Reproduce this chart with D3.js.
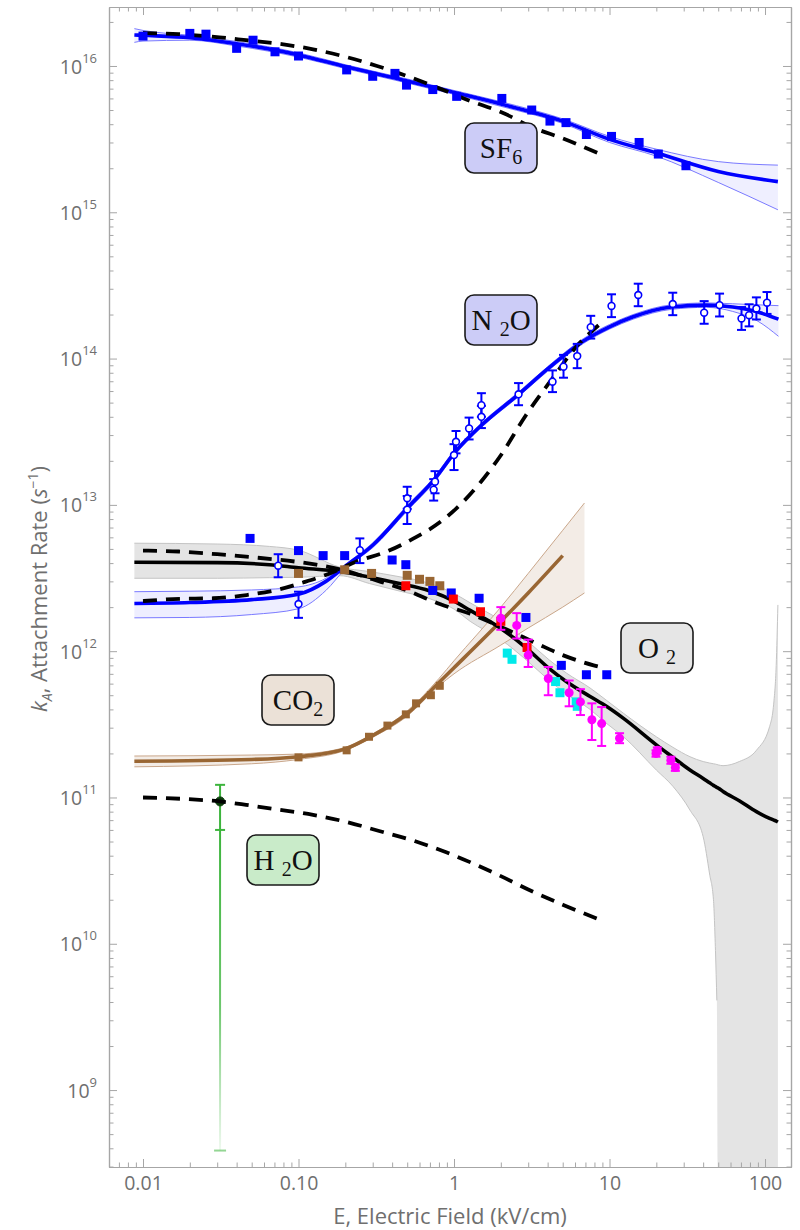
<!DOCTYPE html>
<html><head><meta charset="utf-8">
<script src="https://cdn.jsdelivr.net/npm/d3@7"></script>
<style>body{margin:0;background:#fff}svg{display:block}</style>
</head><body>
<svg id="c" width="800" height="1230"></svg>
<script>
// ---------------- DATA ----------------
const xMajor = [0.01, 0.1, 1, 10, 100];
const xMajorLabels = ["0.01", "0.10", "1", "10", "100"];
const yMajor = [1e9, 1e10, 1e11, 1e12, 1e13, 1e14, 1e15, 1e16];
const yMajorExp = ["9", "10", "11", "12", "13", "14", "15", "16"];

// SF6 fit + band
const sf6E   = [0.0088, 0.01, 0.02, 0.04, 0.1, 0.2, 0.5, 1, 2, 5, 10, 20, 50, 121];
const sf6Fit = [1.63e16, 1.62e16, 1.56e16, 1.42e16, 1.19e16, 9.9e15, 7.9e15, 6.6e15, 5.5e15, 4.2e15, 3.15e15, 2.55e15, 1.9e15, 1.62e15];
const sf6Hi  = [1.8e16, 1.75e16, 1.62e16, 1.47e16, 1.23e16, 1.02e16, 8.15e15, 6.8e15, 5.7e15, 4.35e15, 3.3e15, 2.7e15, 2.22e15, 2.1e15];
const sf6Lo  = [1.45e16, 1.48e16, 1.5e16, 1.37e16, 1.15e16, 9.6e15, 7.65e15, 6.4e15, 5.3e15, 4.05e15, 3.0e15, 2.42e15, 1.6e15, 1.04e15];
const sf6DashE = [0.01, 0.017, 0.031, 0.046, 0.078, 0.124, 0.204, 0.32, 0.52, 0.81, 1.2, 2.07, 3.2, 5.0, 8.7];
const sf6Dash  = [1.68e16, 1.65e16, 1.57e16, 1.5e16, 1.41e16, 1.3e16, 1.15e16, 1.0e16, 8.4e15, 7.0e15, 5.9e15, 4.77e15, 3.8e15, 3.2e15, 2.5e15];
const sf6PtE = [0.01, 0.02, 0.0254, 0.04, 0.051, 0.0706, 0.10, 0.204, 0.30, 0.417, 0.495, 0.73, 1.04, 2.03, 3.16, 4.14, 5.25, 7.1, 10.3, 15.5, 20.6, 31];
const sf6PtK = [1.6e16, 1.67e16, 1.65e16, 1.32e16, 1.5e16, 1.25e16, 1.17e16, 9.4e15, 8.5e15, 8.9e15, 7.4e15, 6.9e15, 6.2e15, 6.0e15, 5.0e15, 4.2e15, 4.1e15, 3.4e15, 3.3e15, 3.0e15, 2.5e15, 2.08e15];

// N2O fit + band
const n2oE   = [0.0088, 0.02, 0.05, 0.1, 0.15, 0.2, 0.3, 0.5, 0.75, 1.0, 1.5, 2.6, 4, 6.8, 10, 14.2, 25, 42, 62, 90, 122];
const n2oFit = [2.12e12, 2.15e12, 2.25e12, 2.45e12, 3.0e12, 3.8e12, 5.3e12, 9.5e12, 1.5e13, 2.25e13, 3.5e13, 5.7e13, 8.5e13, 1.32e14, 1.65e14, 1.93e14, 2.25e14, 2.32e14, 2.25e14, 2.08e14, 1.86e14];
const n2oHi  = [2.55e12, 2.57e12, 2.62e12, 2.75e12, 3.15e12, 3.92e12, 5.5e12, 9.9e12, 1.56e13, 2.34e13, 3.62e13, 5.9e13, 8.8e13, 1.37e14, 1.71e14, 2.0e14, 2.33e14, 2.4e14, 2.37e14, 2.33e14, 2.3e14];
const n2oLo  = [1.69e12, 1.7e12, 1.78e12, 1.95e12, 2.6e12, 3.65e12, 5.1e12, 9.1e12, 1.44e13, 2.16e13, 3.38e13, 5.5e13, 8.2e13, 1.27e14, 1.59e14, 1.86e14, 2.17e14, 2.24e14, 2.1e14, 1.8e14, 1.42e14];
const n2oDashE = [0.01, 0.0173, 0.0283, 0.0464, 0.0758, 0.107, 0.159, 0.236, 0.37, 0.55, 0.81, 1.04, 1.5, 1.98, 2.9, 4.37, 6.1, 9.0];
const n2oDash  = [2.2e12, 2.28e12, 2.3e12, 2.42e12, 2.65e12, 2.95e12, 3.4e12, 4.1e12, 4.8e12, 5.9e12, 7.6e12, 9.5e12, 1.45e13, 2.15e13, 4.1e13, 7.5e13, 1.2e14, 1.78e14];
const n2oPtE  = [0.074, 0.1, 0.248, 0.5, 0.5, 0.74, 0.755, 1.0, 1.03, 1.25, 1.5, 1.5, 2.6, 4.3, 5.06, 6.2, 7.57, 10.3, 15.3, 25.5, 40.6, 51, 70.6, 79, 88, 103];
const n2oPtK  = [3.84e12, 2.1e12, 4.9e12, 9.3e12, 1.11e13, 1.27e13, 1.44e13, 2.19e13, 2.7e13, 3.33e13, 4.0e13, 4.8e13, 5.7e13, 6.95e13, 8.8e13, 1.04e14, 1.64e14, 2.29e14, 2.72e14, 2.36e14, 2.06e14, 2.32e14, 1.88e14, 1.98e14, 2.2e14, 2.41e14];
const n2oPtHi = [4.6e12, 2.55e12, 5.9e12, 1.15e13, 1.33e13, 1.5e13, 1.7e13, 2.6e13, 3.2e13, 3.95e13, 4.75e13, 5.8e13, 6.8e13, 8.3e13, 1.06e14, 1.26e14, 1.96e14, 2.75e14, 3.25e14, 2.82e14, 2.47e14, 2.78e14, 2.25e14, 2.35e14, 2.62e14, 2.85e14];
const n2oPtLo = [3.2e12, 1.69e12, 4.0e12, 7.4e12, 9.4e12, 1.07e13, 1.2e13, 1.73e13, 2.25e13, 2.8e13, 3.35e13, 4.0e13, 4.8e13, 5.9e13, 7.4e13, 8.6e13, 1.37e14, 1.92e14, 2.28e14, 1.98e14, 1.73e14, 1.94e14, 1.57e14, 1.66e14, 1.85e14, 2.02e14];

// O2 fit + band
const o2E   = [0.0088, 0.03, 0.065, 0.1, 0.185, 0.286, 0.43, 0.7, 1.0, 1.27, 2.0, 2.92, 4.1, 5.27, 7.5, 9.6, 12.3, 20, 25.6, 32.9, 40, 44, 46.6, 48, 49, 50, 53.7, 68.3, 88, 107, 114, 118, 121];
const o2Fit = [4.05e12, 4.03e12, 3.9e12, 3.72e12, 3.5e12, 3.2e12, 2.92e12, 2.58e12, 2.2e12, 1.9e12, 1.43e12, 1.05e12, 7.6e11, 6.2e11, 4.9e11, 4.18e11, 3.47e11, 2.29e11, 1.88e11, 1.54e11, 1.35e11, 1.26e11, 1.21e11, 1.19e11, 1.17e11, 1.16e11, 1.1e11, 9.5e10, 8.0e10, 7.2e10, 7.0e10, 6.9e10, 6.8e10];
const o2Hi  = [5.47e12, 5.4e12, 5.2e12, 4.9e12, 3.75e12, 3.5e12, 3.25e12, 2.9e12, 2.48e12, 2.14e12, 1.62e12, 1.19e12, 8.7e11, 7.1e11, 5.6e11, 4.6e11, 3.76e11, 2.6e11, 2.2e11, 1.9e11, 1.76e11, 1.72e11, 1.7e11, 1.69e11, 1.68e11, 1.67e11, 1.65e11, 1.76e11, 2.1e11, 3.05e11, 4.5e11, 8.0e11, 2.07e12];
const o2Lo  = [3.15e12, 3.15e12, 3.18e12, 3.2e12, 3.28e12, 2.9e12, 2.6e12, 2.28e12, 1.94e12, 1.6e12, 1.2e12, 8.7e11, 6.3e11, 5.1e11, 4.0e11, 3.2e11, 2.6e11, 1.54e11, 1.19e11, 8.2e10, 5.4e10, 3.0e10, 2.0e10, 9e9, 4.1e9, 1e8, 1e8, 1e8, 1e8, 1e8, 1e8, 1e8, 1e8];
const o2DashE = [0.01, 0.017, 0.03, 0.049, 0.13, 0.19, 0.30, 0.50, 0.81, 1.27, 2.2, 3.4, 5.0, 7.9, 9.1];
const o2Dash  = [4.87e12, 4.8e12, 4.6e12, 4.4e12, 3.9e12, 3.6e12, 3.1e12, 2.6e12, 2.1e12, 1.8e12, 1.4e12, 1.13e12, 9.4e11, 8.0e11, 7.7e11];
const o2BlueE = [0.0488, 0.1, 0.144, 0.198, 0.40, 0.49, 0.73, 0.96, 1.45, 2.9, 4.9, 7.1, 9.6];
const o2BlueK = [5.9e12, 4.87e12, 4.5e12, 4.5e12, 4.2e12, 3.9e12, 2.6e12, 2.5e12, 2.3e12, 1.7e12, 8.0e11, 6.9e11, 6.9e11];
const o2RedE = [0.49, 0.99, 1.48, 2.0, 2.95];
const o2RedK = [2.8e12, 2.27e12, 1.86e12, 1.6e12, 1.06e12];
const o2BrownE = [0.1, 0.198, 0.295, 0.50, 0.6, 0.70, 0.81];
const o2BrownK = [3.4e12, 3.6e12, 3.4e12, 3.3e12, 3.1e12, 3.0e12, 2.8e12];
const o2CyanE = [2.2, 2.36, 4.5, 4.8, 6.1, 6.2];
const o2CyanK = [9.7e11, 8.8e11, 6.2e11, 5.2e11, 4.5e11, 4.2e11];
const o2MagE  = [2.0, 2.53, 3.0, 4.04, 5.5, 6.5, 7.7, 8.9, 11.6, 19.9, 20.3, 24.8, 26.5];
const o2MagK  = [1.68e12, 1.5e12, 9.4e11, 6.5e11, 5.2e11, 4.5e11, 3.4e11, 3.2e11, 2.54e11, 2.0e11, 2.1e11, 1.8e11, 1.6e11];
const o2MagLo = [1.4e12, 1.22e12, 7.8e11, 5.0e11, 4.2e11, 3.66e11, 2.47e11, 2.25e11, 2.35e11, 1.9e11, 2.0e11, 1.7e11, 1.52e11];
const o2MagHi = [2.0e12, 1.82e12, 1.2e12, 7.8e11, 6.3e11, 5.5e11, 4.4e11, 4.15e11, 2.75e11, 2.1e11, 2.2e11, 1.9e11, 1.68e11];

// CO2 fit + band
const co2E   = [0.0088, 0.05, 0.1, 0.2, 0.3, 0.5, 0.8, 1.0, 2, 3, 5, 6.9];
const co2Fit = [1.77e11, 1.82e11, 1.9e11, 2.15e11, 2.65e11, 3.75e11, 6.1e11, 7.7e11, 1.6e12, 2.5e12, 4.5e12, null];
const co2Hi  = [1.92e11, 1.95e11, 1.98e11, 2.2e11, 2.72e11, 3.9e11, 6.5e11, 8.6e11, 2.0e12, 3.4e12, 6.7e12, 1.03e13];
const co2Lo  = [1.62e11, 1.7e11, 1.82e11, 2.1e11, 2.58e11, 3.6e11, 5.8e11, 7.0e11, 1.1e12, 1.44e12, 2.0e12, 2.5e12];
const co2PtE = [0.1, 0.204, 0.284, 0.373, 0.49, 0.57, 0.71, 0.81];
const co2PtK = [1.88e11, 2.1e11, 2.6e11, 3.1e11, 3.7e11, 4.4e11, 5.0e11, 5.8e11];

// H2O
const h2oDashE = [0.01, 0.0173, 0.031, 0.046, 0.072, 0.124, 0.193, 0.33, 0.57, 0.9, 2, 3, 5, 8.8];
const h2oDash  = [1.0e11, 9.8e10, 9.4e10, 8.9e10, 8.3e10, 7.6e10, 6.9e10, 5.9e10, 5.0e10, 4.2e10, 2.9e10, 2.35e10, 1.85e10, 1.45e10];
const h2oPtE = [0.0313];
const h2oPtK = [9.4e10];
const h2oPtHi = [1.22e11];
const h2oPtLo = [6.0e10];
const h2oTailLo = [3.86e8];

// labels
const labels = [
  {parts: [["SF",""],["6","sub"]], fill: "#ccccf7", box: [465, 123]},
  {parts: [["N ",""],["2","sub"],["O",""]], fill: "#ccccf7", box: [465, 295]},
  {parts: [["O ",""],["2","sub"]], fill: "#e6e6e6", box: [621, 623]},
  {parts: [["CO",""],["2","sub"]], fill: "#ebe1d7", box: [262, 675]},
  {parts: [["H ",""],["2","sub"],["O",""]], fill: "#c9ebc9", box: [247, 835]}
];

// ---------------- LAYOUT ----------------
const L = 109, R = 791, T = 7, B = 1167;
const x = d3.scaleLog().domain([0.006044, 146.9]).range([L, R]);
const y = d3.scaleLog().domain([2.98e8, 2.53e16]).range([B, T]);

const BLUE = "#0000ff", RED = "#ff0000", MAG = "#ff00ff", CYAN = "#00eaea",
      BROWN = "#996633", GREEN = "#3cb43c";
const AX = "#a6a6a6", TXT = "#6f6f6f";
const FONT = "'Open Sans', 'Liberation Sans', sans-serif";
const SERIF = "'Liberation Serif', 'DejaVu Serif', serif";

const svg = d3.select("#c");
const defs = svg.append("defs");
defs.append("clipPath").attr("id", "clip").append("rect")
  .attr("x", L).attr("y", T).attr("width", R - L).attr("height", B - T);
const grad = defs.append("linearGradient").attr("id", "h2ograd")
  .attr("gradientUnits", "userSpaceOnUse")
  .attr("x1", 0).attr("x2", 0)
  .attr("y1", y(h2oPtLo[0])).attr("y2", y(h2oTailLo[0]));
grad.append("stop").attr("offset", 0).attr("stop-color", GREEN).attr("stop-opacity", 1);
grad.append("stop").attr("offset", 0.55).attr("stop-color", GREEN).attr("stop-opacity", 0.75);
grad.append("stop").attr("offset", 1).attr("stop-color", GREEN).attr("stop-opacity", 0.08);

const plot = svg.append("g").attr("clip-path", "url(#clip)");

const rows = (E, ...cols) => E.map((e, i) => ({E: e, v: cols.map(c => c[i])}));
const curve = d3.curveMonotoneX;

function band(E, lo, hi, fill, edge, loEdgeDefined) {
  const d = rows(E, lo, hi);
  plot.append("path").datum(d)
    .attr("d", d3.area().curve(curve).x(p => x(p.E)).y0(p => y(p.v[0])).y1(p => y(p.v[1])))
    .attr("fill", fill).attr("stroke", "none");
  plot.append("path").datum(d)
    .attr("d", d3.line().curve(curve).x(p => x(p.E)).y(p => y(p.v[1])))
    .attr("fill", "none").attr("stroke", edge).attr("stroke-width", 1);
  plot.append("path").datum(d)
    .attr("d", d3.line().curve(curve).defined(loEdgeDefined || (() => true)).x(p => x(p.E)).y(p => y(p.v[0])))
    .attr("fill", "none").attr("stroke", edge).attr("stroke-width", 1);
}
function line(E, K, color, width, dash) {
  const d = rows(E, K);
  const p = plot.append("path").datum(d)
    .attr("d", d3.line().curve(curve).defined(q => q.v[0] != null).x(q => x(q.E)).y(q => y(q.v[0])))
    .attr("fill", "none").attr("stroke", color).attr("stroke-width", width)
    .attr("stroke-linejoin", "round");
  if (dash) p.attr("stroke-dasharray", dash);
}
function squares(E, K, color, s) {
  plot.append("g").selectAll("rect").data(rows(E, K)).join("rect")
    .attr("x", d => x(d.E) - s / 2).attr("y", d => y(d.v[0]) - s / 2)
    .attr("width", s).attr("height", s).attr("fill", color);
}
function errbars(E, K, lo, hi, color, cap, w) {
  const g = plot.append("g").attr("stroke", color).attr("stroke-width", w);
  const d = rows(E, K, lo, hi);
  g.selectAll("line.v").data(d).join("line").attr("class", "v")
    .attr("x1", p => x(p.E)).attr("x2", p => x(p.E))
    .attr("y1", p => y(p.v[1])).attr("y2", p => y(p.v[2]));
  g.selectAll("line.t").data(d).join("line").attr("class", "t")
    .attr("x1", p => x(p.E) - cap / 2).attr("x2", p => x(p.E) + cap / 2)
    .attr("y1", p => y(p.v[2])).attr("y2", p => y(p.v[2]));
  g.selectAll("line.b").data(d).join("line").attr("class", "b")
    .attr("x1", p => x(p.E) - cap / 2).attr("x2", p => x(p.E) + cap / 2)
    .attr("y1", p => y(p.v[1])).attr("y2", p => y(p.v[1]));
}
function circles(E, K, stroke, fill, r, sw) {
  plot.append("g").selectAll("circle").data(rows(E, K)).join("circle")
    .attr("cx", d => x(d.E)).attr("cy", d => y(d.v[0])).attr("r", r)
    .attr("fill", fill).attr("stroke", stroke).attr("stroke-width", sw);
}

// bands
band(o2E, o2Lo, o2Hi, "#e4e4e4", "#c4c4c4", p => p.v[0] > 1e9);
band(co2E, co2Lo, co2Hi, "#f3ece6", "#caa78b");
band(n2oE, n2oLo, n2oHi, "#eeeeff", "#7a7aff");
band(sf6E, sf6Lo, sf6Hi, "#efefff", "#7a7aff");

// fits
line(co2E, co2Fit, BROWN, 3.6);
line(o2E, o2Fit, "#000", 3.6);
line(n2oE, n2oFit, BLUE, 3.6);
line(sf6E, sf6Fit, BLUE, 3.6);

// H2O point (under dashed)
const h2o = rows(h2oPtE, h2oPtK, h2oPtLo, h2oPtHi, h2oTailLo);
plot.append("g").selectAll("line").data(h2o).join("line")
  .attr("x1", d => x(d.E)).attr("x2", d => x(d.E))
  .attr("y1", d => y(d.v[1])).attr("y2", d => y(d.v[3]))
  .attr("stroke", "url(#h2ograd)").attr("stroke-width", 2);
plot.append("g").selectAll("line").data(h2o).join("line")
  .attr("x1", d => x(d.E) - 6).attr("x2", d => x(d.E) + 6)
  .attr("y1", d => y(d.v[3])).attr("y2", d => y(d.v[3]))
  .attr("stroke", GREEN).attr("stroke-opacity", 0.55).attr("stroke-width", 2);
errbars(h2oPtE, h2oPtK, h2oPtLo, h2oPtHi, GREEN, 10, 2);
circles(h2oPtE, h2oPtK, "#0d3d0d", "#0d3d0d", 4.5, 1);

// dashed theory
const DASH = "14,9";
line(sf6DashE, sf6Dash, "#000", 3.8, DASH);
line(n2oDashE, n2oDash, "#000", 3.8, DASH);
line(o2DashE, o2Dash, "#000", 3.8, DASH);
line(h2oDashE, h2oDash, "#000", 3.8, DASH);

// O2 data
squares(o2BrownE, o2BrownK, BROWN, 9);
squares(o2BlueE, o2BlueK, BLUE, 9);
squares(o2RedE, o2RedK, RED, 9);
squares(o2CyanE, o2CyanK, CYAN, 9);
errbars(o2MagE, o2MagK, o2MagLo, o2MagHi, MAG, 9, 2);
circles(o2MagE, o2MagK, MAG, MAG, 4.5, 0);

// CO2 data
squares(co2PtE, co2PtK, BROWN, 8);

// N2O data
errbars(n2oPtE, n2oPtK, n2oPtLo, n2oPtHi, BLUE, 9, 2);
circles(n2oPtE, n2oPtK, BLUE, "#fff", 3.4, 1.6);

// SF6 data
squares(sf6PtE, sf6PtK, BLUE, 9);

// labels
const lg = svg.append("g");
labels.forEach(l => {
  const [bx, by] = l.box;
  lg.append("rect").attr("x", bx).attr("y", by).attr("width", 72).attr("height", 50)
    .attr("rx", 9).attr("fill", l.fill).attr("stroke", "#1a1a1a").attr("stroke-width", 1.6);
  const t = lg.append("text").attr("x", bx + 36).attr("y", by + 35)
    .attr("text-anchor", "middle").attr("font-family", SERIF).attr("font-size", 29)
    .attr("fill", "#111").style("white-space", "pre");
  let shifted = false;
  l.parts.forEach(([s, k]) => {
    const ts = t.append("tspan").text(s);
    if (k === "sub") { ts.attr("font-size", 20).attr("dy", 6); shifted = true; }
    else if (shifted) { ts.attr("dy", -6); shifted = false; }
  });
});

// ---------------- AXES ----------------
const xMinor = [], yMinor = [];
for (let p = -3; p <= 2; p++) for (let m = 2; m <= 9; m++) {
  const v = m * Math.pow(10, p);
  if (v > x.domain()[0] && v < x.domain()[1]) xMinor.push(v);
}
for (let p = 8; p <= 16; p++) for (let m = 2; m <= 9; m++) {
  const v = m * Math.pow(10, p);
  if (v > y.domain()[0] && v < y.domain()[1]) yMinor.push(v);
}
function styleAxis(g) {
  g.selectAll("path.domain").attr("stroke", AX).attr("stroke-width", 1.2);
  g.selectAll(".tick line").attr("stroke", AX).attr("stroke-width", 1);
  g.selectAll("text").attr("fill", TXT).attr("font-family", FONT);
}
// bottom
svg.append("g").attr("transform", `translate(0,${B})`)
  .call(d3.axisBottom(x).tickValues(xMinor).tickSizeInner(-4.5).tickSizeOuter(0).tickFormat(""))
  .call(styleAxis);
svg.append("g").attr("transform", `translate(0,${B})`)
  .call(d3.axisBottom(x).tickValues(xMajor).tickSizeInner(-8).tickSizeOuter(0).tickPadding(9)
    .tickFormat((d, i) => xMajorLabels[i]))
  .call(styleAxis)
  .call(g => g.selectAll("text").attr("font-size", 19.5));
// top
svg.append("g").attr("transform", `translate(0,${T})`)
  .call(d3.axisTop(x).tickValues(xMinor).tickSizeInner(-4.5).tickSizeOuter(0).tickFormat(""))
  .call(styleAxis);
svg.append("g").attr("transform", `translate(0,${T})`)
  .call(d3.axisTop(x).tickValues(xMajor).tickSizeInner(-8).tickSizeOuter(0).tickFormat(""))
  .call(styleAxis);
// left
svg.append("g").attr("transform", `translate(${L},0)`)
  .call(d3.axisLeft(y).tickValues(yMinor).tickSizeInner(-4.5).tickSizeOuter(0).tickFormat(""))
  .call(styleAxis);
const yl = svg.append("g").attr("transform", `translate(${L},0)`)
  .call(d3.axisLeft(y).tickValues(yMajor).tickSizeInner(-8).tickSizeOuter(0).tickPadding(12)
    .tickFormat(() => ""))
  .call(styleAxis);
yl.selectAll(".tick text").each(function (d, i) {
  const t = d3.select(this).attr("font-size", 19.5).attr("dy", "0.36em");
  t.append("tspan").text("10");
  t.append("tspan").attr("font-size", 13).attr("dy", -11).text(yMajorExp[i]);
});
// right
svg.append("g").attr("transform", `translate(${R},0)`)
  .call(d3.axisRight(y).tickValues(yMinor).tickSizeInner(-4.5).tickSizeOuter(0).tickFormat(""))
  .call(styleAxis);
svg.append("g").attr("transform", `translate(${R},0)`)
  .call(d3.axisRight(y).tickValues(yMajor).tickSizeInner(-8).tickSizeOuter(0).tickFormat(""))
  .call(styleAxis);

// titles
svg.append("text").attr("x", 450).attr("y", 1224).attr("text-anchor", "middle")
  .attr("font-family", FONT).attr("font-size", 22).attr("fill", TXT)
  .text("E, Electric Field (kV/cm)");
const yt = svg.append("text").attr("transform", "translate(47,589) rotate(-90)")
  .attr("text-anchor", "middle").attr("font-family", FONT).attr("font-size", 22).attr("fill", TXT);
yt.append("tspan").attr("font-style", "italic").text("k");
yt.append("tspan").attr("font-style", "italic").attr("font-size", 14).attr("dy", 5).text("A");
yt.append("tspan").attr("dy", -5).text(", Attachment Rate (");
yt.append("tspan").attr("font-style", "italic").text("s");
yt.append("tspan").attr("font-size", 14).attr("dy", -9).text("−1");
yt.append("tspan").attr("dy", 9).text(")");
</script>
</body></html>
